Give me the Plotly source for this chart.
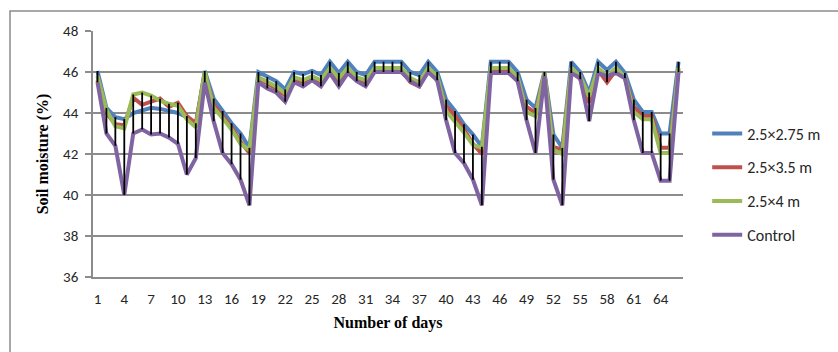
import plotly.graph_objects as go

days = list(range(1, 67))

s_275 = [46.05, 44.25, 43.8, 43.7, 44.0, 44.1, 44.25, 44.2, 44.1, 44.0, 43.8, 43.4,
         46.05, 44.7, 44.1, 43.5, 43.0, 42.3, 46.0, 45.75, 45.55, 45.15, 46.0, 45.9,
         46.05, 45.85, 46.5, 45.95, 46.5, 46.0, 45.85, 46.5, 46.5, 46.5, 46.5, 46.0,
         45.85, 46.5, 46.0, 44.65, 44.1, 43.45, 42.95, 42.35, 46.5, 46.5, 46.5, 46.0,
         44.65, 44.25, 46.0, 42.95, 42.3, 46.5, 46.0, 45.0, 46.5, 46.1, 46.5, 45.95,
         44.65, 44.05, 44.05, 43.0, 43.0, 46.5]
s_35 = [45.6, 44.0, 43.45, 43.4, 44.75, 44.4, 44.55, 44.7, 44.3, 44.5, 43.85, 43.5,
        45.9, 44.4, 43.85, 43.3, 42.6, 42.05, 45.7, 45.45, 45.2, 44.85, 45.65, 45.45,
        45.7, 45.5, 46.1, 45.55, 46.1, 45.65, 45.5, 46.1, 46.1, 46.1, 46.1, 45.5,
        45.3, 46.1, 45.6, 44.35, 43.85, 43.2, 42.5, 42.0, 46.05, 46.05, 46.05, 45.6,
        44.3, 44.0, 45.9, 42.35, 42.2, 46.1, 45.65, 44.5, 46.1, 45.5, 46.1, 45.7,
        44.3, 43.85, 43.85, 42.3, 42.3, 46.1]
s_4 = [45.8, 44.15, 43.35, 43.25, 44.9, 45.0, 44.85, 44.6, 44.45, 44.35, 43.7, 43.3,
       46.0, 44.25, 43.75, 43.2, 42.5, 42.2, 45.75, 45.55, 45.3, 44.95, 45.75, 45.6,
       45.8, 45.6, 46.2, 45.7, 46.2, 45.75, 45.6, 46.2, 46.2, 46.2, 46.2, 45.7,
       45.5, 46.2, 45.8, 44.1, 43.6, 43.05, 42.45, 42.3, 46.2, 46.2, 46.2, 45.75,
       44.05, 43.85, 45.95, 42.2, 42.0, 46.2, 45.8, 44.8, 46.2, 45.8, 46.2, 45.75,
       44.05, 43.7, 43.7, 42.05, 42.05, 46.2]
s_ctrl = [45.5, 43.0, 42.4, 40.0, 43.0, 43.2, 42.95, 43.0, 42.8, 42.5, 41.0, 41.8,
          45.5, 43.6, 42.05, 41.5, 40.75, 39.5, 45.5, 45.2, 45.0, 44.55, 45.5, 45.3,
          45.6, 45.3, 45.95, 45.3, 45.95, 45.55, 45.3, 46.0, 46.0, 46.0, 46.0, 45.55,
          45.3, 46.0, 45.6, 43.65, 42.05, 41.55, 40.75, 39.5, 45.95, 45.95, 45.95, 45.55,
          43.65, 42.05, 45.8, 40.75, 39.5, 45.95, 45.7, 43.6, 45.95, 45.8, 45.95, 45.7,
          43.65, 42.05, 42.05, 40.7, 40.7, 46.0]

series_names = ["2.5×2.75 m", "2.5×3.5 m", "2.5×4 m", "Control"]
series_vals = [s_275, s_35, s_4, s_ctrl]
series_colors = ["#4F81BD", "#C0504D", "#9BBB59", "#8064A2"]

x_ticks = list(range(1, 66, 3))
y_ticks = [36, 38, 40, 42, 44, 46, 48]

fig = go.Figure()
for name, vals, col in zip(series_names, series_vals, series_colors):
    fig.add_trace(go.Scatter(x=days, y=vals, mode="lines", name=name,
                             legendgroup=name,
                             line=dict(color=col, width=4)))

# high-low lines
hx, hy = [], []
for i, d in enumerate(days):
    col_vals = [v[i] for v in series_vals]
    hx += [d, d, None]
    hy += [min(col_vals), max(col_vals), None]
fig.add_trace(go.Scatter(x=hx, y=hy, mode="lines", showlegend=False,
                         hoverinfo="skip", line=dict(color="black", width=1.8)))

tick_font = dict(family="Carlito, Lato, sans-serif", size=15, color="#262626")
title_font = dict(family="Liberation Serif, Times New Roman, serif", size=16, color="black")

fig.update_layout(
    width=838, height=352,
    margin=dict(l=93, r=155, t=31, b=75),
    paper_bgcolor="white", plot_bgcolor="white",
    showlegend=True,
    legend=dict(x=1.041, xanchor="left", y=0.376, yanchor="middle",
                font=dict(family="Carlito, Lato, sans-serif", size=16, color="#262626"),
                tracegroupgap=10, itemwidth=30, bgcolor="rgba(0,0,0,0)"),
    xaxis=dict(range=[0.5, 66.5], tickmode="array", tickvals=x_ticks,
               ticktext=[str(t) for t in x_ticks], showgrid=False,
               showline=True, linecolor="#8c8c8c", linewidth=1.5, ticks="",
               tickfont=tick_font, ticklabelstandoff=7, zeroline=False,
               title=dict(text="<b>Number of days</b>", font=title_font, standoff=10)),
    yaxis=dict(range=[36, 48], tickmode="array", tickvals=y_ticks, showgrid=True,
               gridcolor="#8c8c8c", gridwidth=1.5, showline=True, linecolor="#8c8c8c",
               linewidth=1.5, ticks="outside", ticklen=6, tickcolor="#8c8c8c",
               tickwidth=1.5, tickfont=tick_font, ticklabelstandoff=4, zeroline=False,
               title=dict(text="<b>Soil moisture (%)</b>", font=title_font, standoff=10)),
    shapes=[dict(type="rect", xref="paper", yref="paper",
                 x0=(10 - 93) / 590, x1=1.5, y0=-0.6, y1=1 + (31 - 11) / 246,
                 line=dict(color="#8c8c8c", width=1.5), fillcolor="rgba(0,0,0,0)",
                 layer="below")],
)

fig.write_html("out.html")
